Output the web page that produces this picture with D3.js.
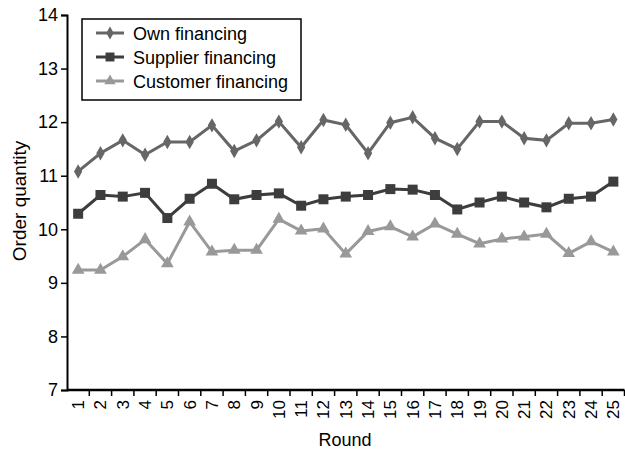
<!DOCTYPE html>
<html>
<head>
<meta charset="utf-8">
<script src="https://cdn.jsdelivr.net/npm/d3@7"></script>
<style>
  body { margin: 0; background: #fff; }
  svg { display: block; font-family: "Liberation Sans", Arial, sans-serif; }
</style>
</head>
<body>
<svg width="625" height="449"></svg>
<script>
// rounds 1..25
var rounds = d3.range(1, 26);

var ownFinancing = [11.08, 11.42, 11.66, 11.39, 11.63, 11.63, 11.94, 11.46, 11.66, 12.01,
  11.53, 12.04, 11.95, 11.42, 11.99, 12.09, 11.70, 11.50, 12.01, 12.01,
  11.70, 11.66, 11.98, 11.98, 12.05];
var supplierFinancing = [10.29, 10.64, 10.61, 10.68, 10.21, 10.57, 10.85, 10.56, 10.64, 10.67,
  10.44, 10.56, 10.61, 10.64, 10.75, 10.74, 10.64, 10.37, 10.50, 10.61,
  10.50, 10.41, 10.57, 10.61, 10.89];
var customerFinancing = [9.24, 9.24, 9.49, 9.81, 9.36, 10.14, 9.58, 9.61, 9.61, 10.19,
  9.97, 10.01, 9.54, 9.96, 10.05, 9.86, 10.10, 9.91, 9.73, 9.82,
  9.86, 9.91, 9.55, 9.77, 9.58];

var seriesNames = ["Own financing", "Supplier financing", "Customer financing"];
var yTicks = [7, 8, 9, 10, 11, 12, 13, 14];

var series = [
  { name: seriesNames[0], values: ownFinancing, color: "#666666", symbol: d3.symbolDiamond, size: 60 },
  { name: seriesNames[1], values: supplierFinancing, color: "#3d3d3d", symbol: d3.symbolSquare, size: 100 },
  { name: seriesNames[2], values: customerFinancing, color: "#999999", symbol: d3.symbolTriangle, size: 70 }
];

var margin = { top: 15, left: 67 };

var svg = d3.select("svg");
var g = svg.append("g").attr("transform", "translate(" + margin.left + "," + margin.top + ")");

var x = d3.scaleBand().domain(rounds).range([0, 25 * 22.3]);
var y = d3.scaleLinear().domain([7, 14]).range([375, 0]);

// y axis
var yAxis = d3.axisLeft(y).tickValues(yTicks).tickFormat(d3.format("d")).tickSize(6).tickPadding(3);
var gy = g.append("g").call(yAxis);
gy.select(".domain").attr("stroke-width", 2);
gy.selectAll(".tick line").attr("stroke-width", 1.5);
gy.selectAll(".tick text").attr("font-size", 18).attr("fill", "#000");

// x axis, ticks between categories
var gx = g.append("g").attr("transform", "translate(0," + y(7) + ")");
gx.append("line").attr("x1", 0).attr("x2", x.range()[1]).attr("stroke", "#000").attr("stroke-width", 2.5);
gx.selectAll(".xtick").data(rounds).enter().append("line")
  .attr("x1", function(d) { return x(d) + x.bandwidth(); })
  .attr("x2", function(d) { return x(d) + x.bandwidth(); })
  .attr("y1", 0).attr("y2", 6)
  .attr("stroke", "#000").attr("stroke-width", 1.5);
gx.selectAll(".xlabel").data(rounds).enter().append("text")
  .attr("transform", function(d) {
    return "translate(" + (x(d) + x.bandwidth() / 2 + 6) + ",10) rotate(-90)";
  })
  .attr("text-anchor", "end")
  .attr("font-size", 17)
  .text(function(d) { return d; });

// axis titles
svg.append("text")
  .attr("transform", "translate(26,201) rotate(-90)")
  .attr("text-anchor", "middle")
  .attr("font-size", 19)
  .text("Order quantity");
svg.append("text")
  .attr("x", 345).attr("y", 446)
  .attr("text-anchor", "middle")
  .attr("font-size", 18)
  .text("Round");

// lines + markers
var line = d3.line()
  .x(function(d, i) { return x(rounds[i]) + x.bandwidth() / 2; })
  .y(function(d) { return y(d); });

series.forEach(function(s) {
  g.append("path")
    .datum(s.values)
    .attr("fill", "none")
    .attr("stroke", s.color)
    .attr("stroke-width", 3)
    .attr("d", line);
  g.selectAll(null).data(s.values).enter().append("path")
    .attr("transform", function(d, i) {
      return "translate(" + (x(rounds[i]) + x.bandwidth() / 2) + "," + y(d) + ")";
    })
    .attr("d", d3.symbol().type(s.symbol).size(s.size))
    .attr("fill", s.color);
});

// legend
var legend = svg.append("g").attr("transform", "translate(82,19)");
legend.append("rect").attr("width", 219).attr("height", 81)
  .attr("fill", "#fff").attr("stroke", "#000").attr("stroke-width", 1.5);
series.forEach(function(s, i) {
  var ly = 14 + i * 24;
  legend.append("line").attr("x1", 14).attr("x2", 42).attr("y1", ly).attr("y2", ly)
    .attr("stroke", s.color).attr("stroke-width", 3);
  legend.append("path").attr("transform", "translate(28," + ly + ")")
    .attr("d", d3.symbol().type(s.symbol).size(s.size * 0.8))
    .attr("fill", s.color);
  legend.append("text").attr("x", 51).attr("y", ly + 6.5)
    .attr("font-size", 18)
    .text(s.name);
});
</script>
</body>
</html>
